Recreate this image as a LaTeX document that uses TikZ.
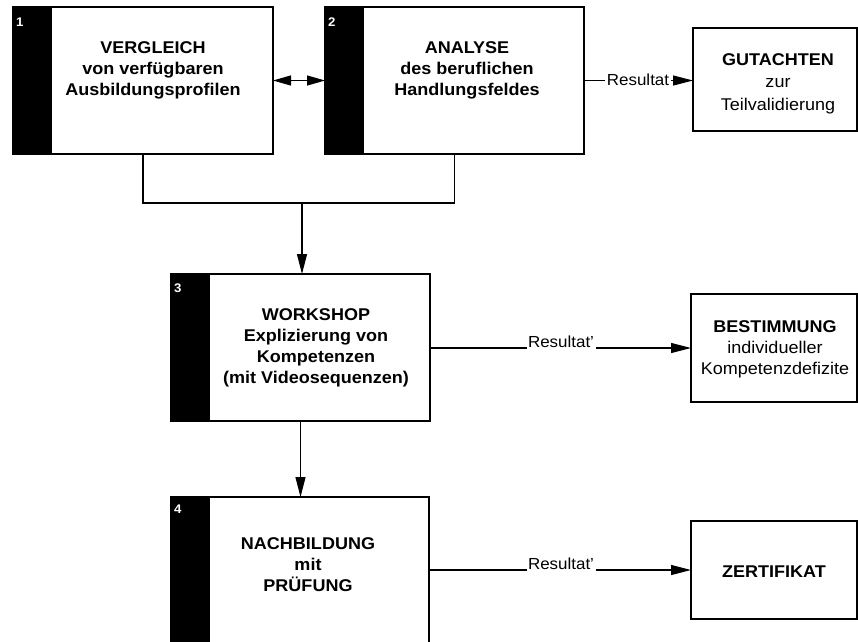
\documentclass[tikz,border=0pt]{standalone}
\usepackage{fontspec}
\setmainfont{Liberation Sans}[FakeStretch=1.06]
\usetikzlibrary{arrows.meta}
\begin{document}
\begin{tikzpicture}[x=1pt,y=-1pt,
  mainbox/.style={draw, line width=1.2pt, inner sep=0pt, outer sep=0pt,
    minimum width=259pt, minimum height=147pt,
    path picture={\fill[black] (path picture bounding box.north west) rectangle ([xshift=38.5pt]path picture bounding box.south west);}},
  sidebox/.style={draw, line width=1.2pt, inner sep=0pt, outer sep=0pt, minimum width=166pt},
  lbl/.style={font=\fontsize{17}{21}\selectfont\bfseries, align=center, anchor=base, inner sep=0pt},
  slbl/.style={font=\fontsize{17}{22.5}\selectfont, align=center, anchor=base, inner sep=0pt},
  num/.style={text=white, font=\fontsize{12.5}{12.5}\selectfont\bfseries, anchor=north west, inner sep=0pt},
  res/.style={fill=white, inner sep=1.5pt, font=\fontsize{16}{16}\selectfont},
  conn/.style={line width=1.2pt},
  arr/.style={conn, -{Triangle[length=20pt,width=10pt]}},
  dblarr/.style={conn, {Triangle[length=18pt,width=10pt]}-{Triangle[length=18pt,width=10pt]}}
]
\useasboundingbox (0,0) rectangle (858,641);
\clip (0,0) rectangle (858,641);

% main boxes
\node[mainbox, minimum width=260pt] (b1) at (143,80.5) {};
\node[mainbox] (b2) at (454.5,80.5) {};
\node[mainbox] (b3) at (300.5,347.5) {};
\node[mainbox, minimum width=258pt, minimum height=148pt] (b4) at (300,571) {};

% side boxes
\node[sidebox, minimum width=164pt, minimum height=103pt] (g) at (775,79.5) {};
\node[sidebox, minimum height=108pt] (be) at (774,348) {};
\node[sidebox, minimum height=98pt] (z) at (774,570) {};

% numbers
\node[num] (n1) at (16,18) {1};
\node[num] (n2) at (328,18) {2};
\node[num] (n3) at (174,284) {3};
\node[num] (n4) at (174,505) {4};

% texts (anchor base = baseline of last line)
\node[lbl] (t1) at (153,95) {VERGLEICH\\von verfügbaren\\Ausbildungsprofilen};
\node[lbl] (t2) at (467,95) {ANALYSE\\des beruflichen\\Handlungsfeldes};
\node[lbl] (t3) at (316,383) {WORKSHOP\\Explizierung von\\Kompetenzen\\(mit Videosequenzen)};
\node[lbl] (t4) at (308,591) {NACHBILDUNG\\mit\\PRÜFUNG};
\node[slbl] (tg) at (778,110) {\textbf{GUTACHTEN}\\zur\\Teilvalidierung};
\node[slbl, font=\fontsize{17}{21}\selectfont] (tbe) at (775,374) {\textbf{BESTIMMUNG}\\individueller\\Kompetenzdefizite};
\node[lbl] (tz) at (774,577) {ZERTIFIKAT};

% connectors
\draw[dblarr] (b1.east) -- (b2.west);
\coordinate (j) at (302,203);
\draw[conn] (b1.south) |- (j);
\draw[conn] (b2.south) |- (j);
\draw[arr] (j) -- (j |- b3.north);
\draw[arr] (b3.south) -- (b3.south |- b4.north);

\draw[arr] (b2.east) -- (b2.east -| g.west);
\node[res] (r1) at (638,80) {Resultat};
\draw[arr] (b3.east |- be.west) -- (be.west);
\node[res, anchor=base] (r2) at (561,347) {Resultat’};
\draw[arr] (b4.east |- z.west) -- (z.west);
\node[res, anchor=base] (r3) at (561,569) {Resultat’};
\end{tikzpicture}
\end{document}
